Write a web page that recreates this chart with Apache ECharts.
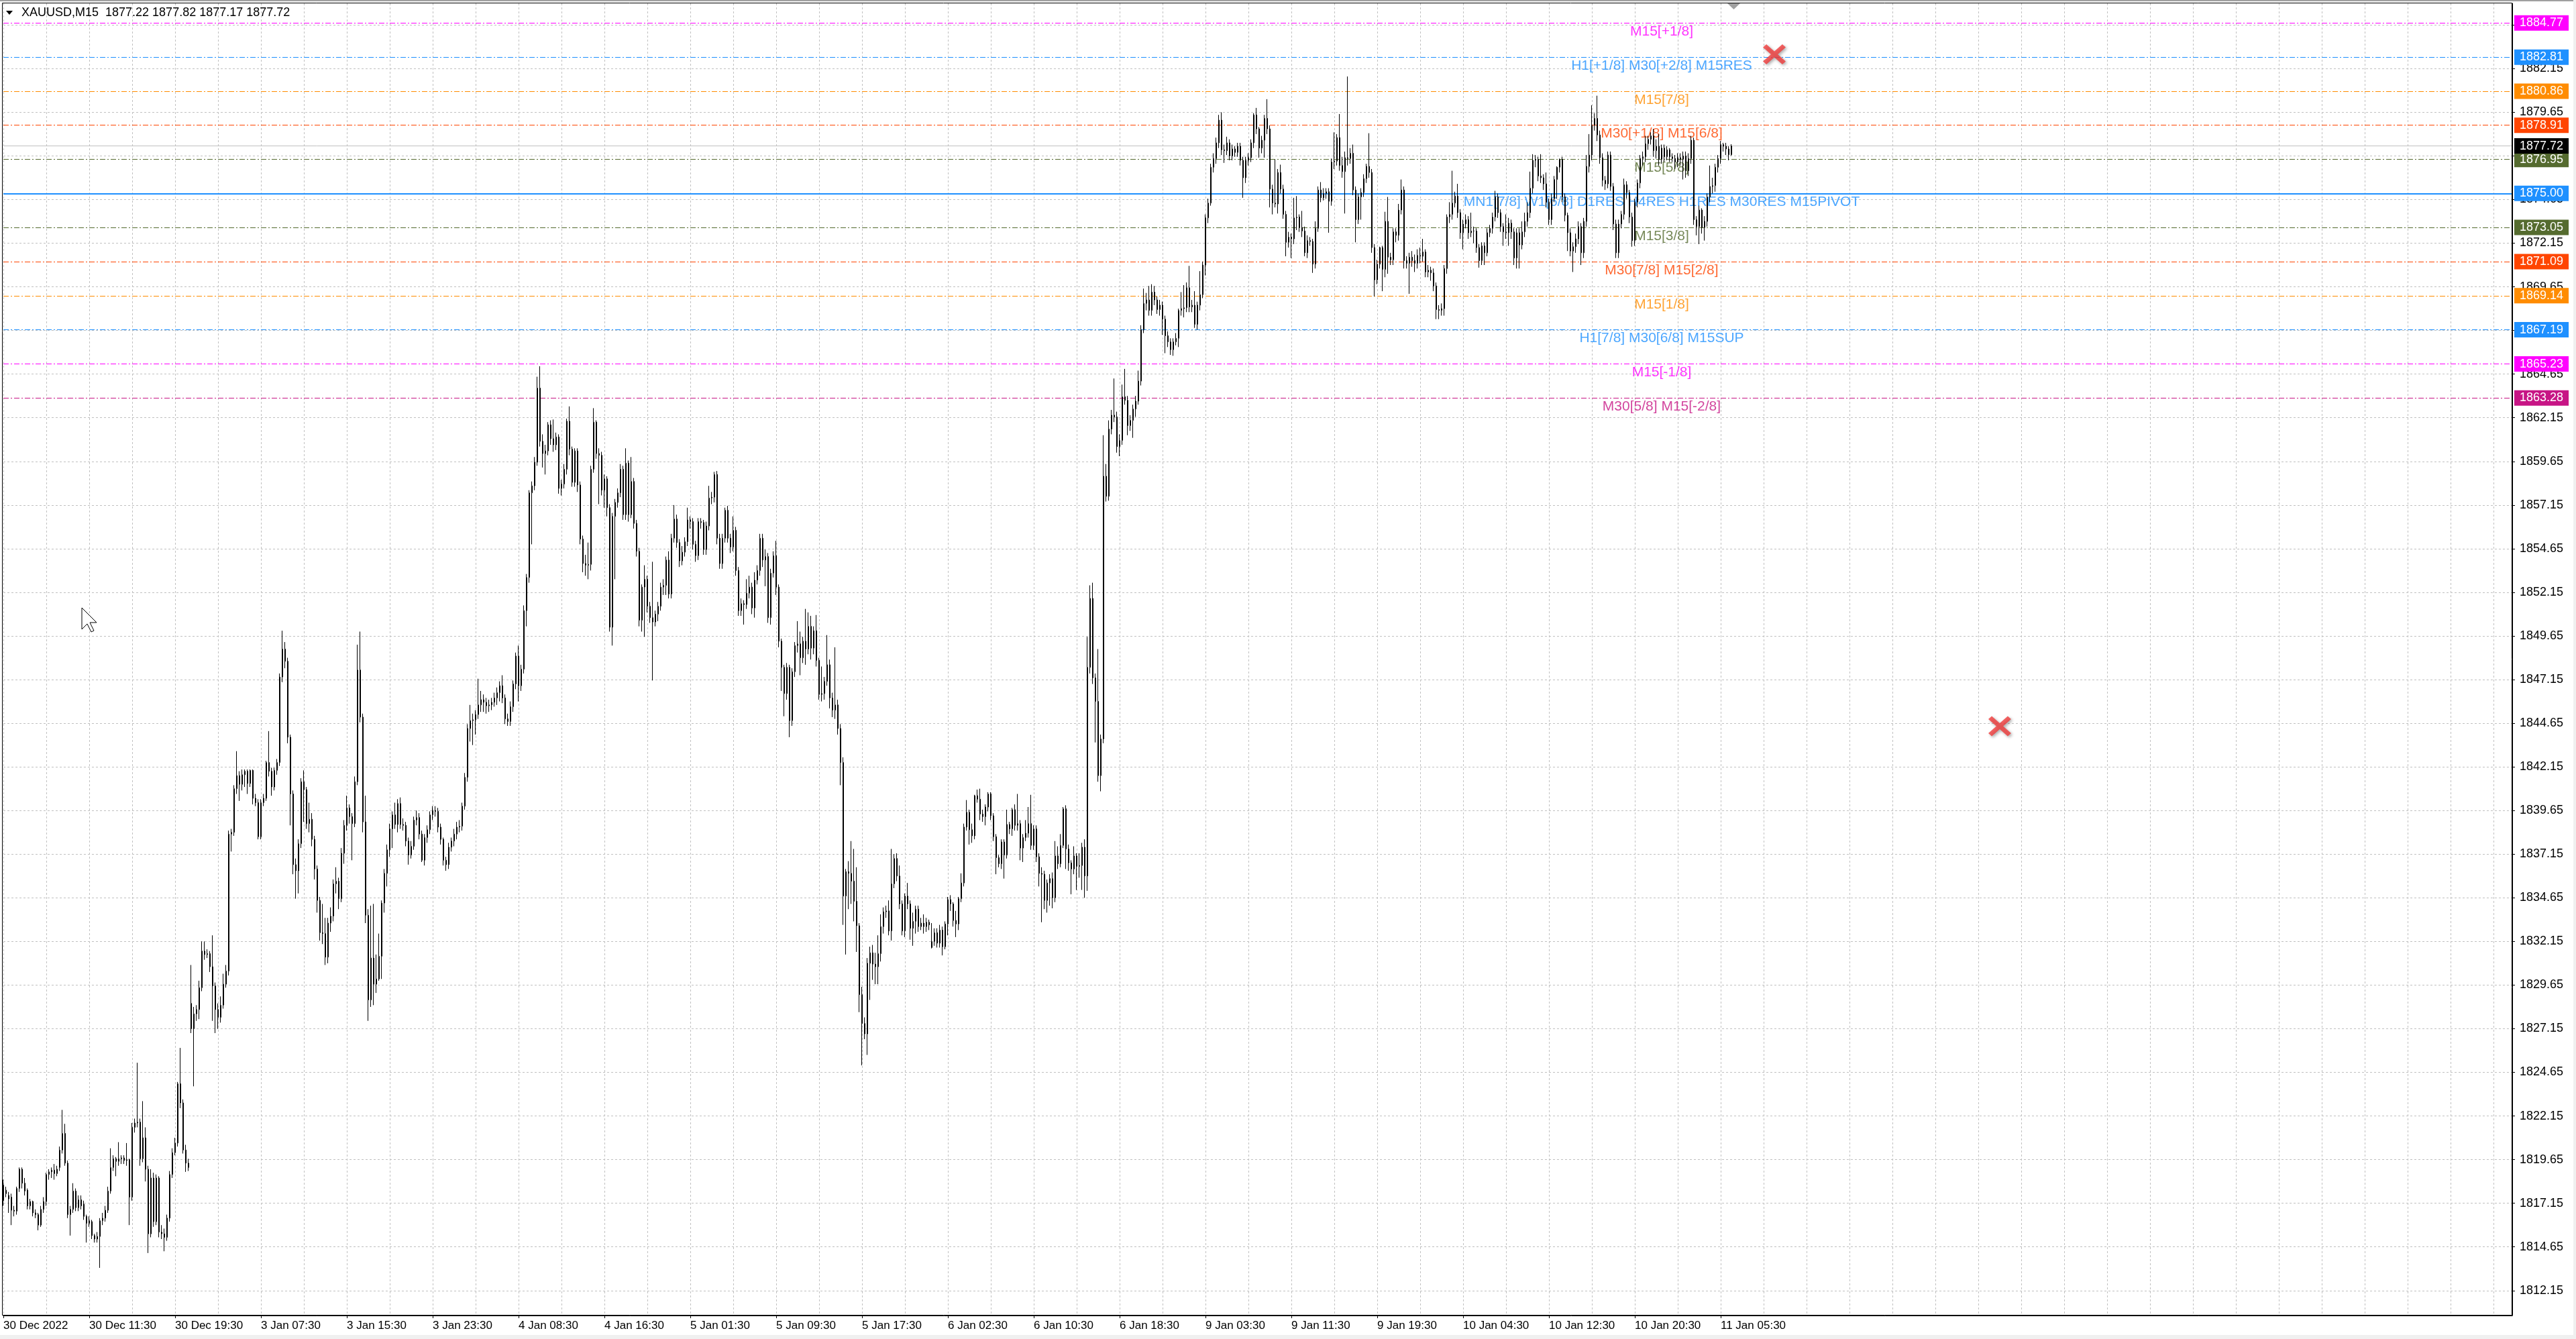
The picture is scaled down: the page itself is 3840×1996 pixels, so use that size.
<!DOCTYPE html>
<html><head><meta charset="utf-8">
<script src="https://cdn.jsdelivr.net/npm/echarts@6/dist/echarts.min.js"></script>
<style>html,body{margin:0;padding:0;background:#fff}#c{width:3840px;height:1996px}</style>
</head><body><div id="c"></div>
<script>
// ---------------- DATA ----------------
const symbolTitle = 'XAUUSD,M15  1877.22 1877.82 1877.17 1877.72';
const xTickLabels = ['30 Dec 2022','30 Dec 11:30','30 Dec 19:30','3 Jan 07:30','3 Jan 15:30','3 Jan 23:30','4 Jan 08:30','4 Jan 16:30','5 Jan 01:30','5 Jan 09:30','5 Jan 17:30','6 Jan 02:30','6 Jan 10:30','6 Jan 18:30','9 Jan 03:30','9 Jan 11:30','9 Jan 19:30','10 Jan 04:30','10 Jan 12:30','10 Jan 20:30','11 Jan 05:30'];
const yTickValues = [1812.15,1814.65,1817.15,1819.65,1822.15,1824.65,1827.15,1829.65,1832.15,1834.65,1837.15,1839.65,1842.15,1844.65,1847.15,1849.65,1852.15,1854.65,1857.15,1859.65,1862.15,1864.65,1867.15,1869.65,1872.15,1874.65,1877.15,1879.65,1882.15,1884.65];
const levelPrices = [1884.77,1882.81,1880.86,1878.91,1876.95,1875.00,1873.05,1871.09,1869.14,1867.19,1865.23,1863.28];
const levelNames = ['M15[+1/8]','H1[+1/8] M30[+2/8] M15RES','M15[7/8]','M30[+1/8] M15[6/8]','M15[5/8]','MN1[7/8] W1[6/8] D1RES H4RES H1RES M30RES M15PIVOT','M15[3/8]','M30[7/8] M15[2/8]','M15[1/8]','H1[7/8] M30[6/8] M15SUP','M15[-1/8]','M30[5/8] M15[-2/8]'];
const bidPrice = 1877.72;
const crossMarks = [[660, 1882.97], [744, 1844.48]];
// candles: [open, close, low, high]
const candles = [
[1817.3,1818.2,1817.0,1818.5],[1817.7,1817.9,1817.5,1818.1],[1817.6,1817.4,1816.6,1817.8],[1817.5,1816.75,1815.9,1817.7],[1816.75,1816.7,1816.4,1817.0],
[1816.7,1818.0,1816.5,1818.1],[1818.0,1819.1,1817.8,1819.2],[1819.1,1818.3,1818.0,1819.2],[1818.3,1817.85,1817.6,1818.6],[1817.9,1817.0,1816.8,1818.0],
[1817.0,1817.25,1816.8,1817.4],[1817.25,1816.6,1816.4,1817.3],[1816.6,1816.5,1816.3,1816.8],[1816.5,1815.9,1815.6,1816.6],[1815.9,1816.8,1815.8,1817.0],
[1816.8,1817.25,1816.6,1817.5],[1817.25,1818.8,1817.0,1818.9],[1818.8,1818.95,1818.5,1819.1],[1818.95,1819.05,1818.6,1819.2],[1819.05,1818.85,1818.5,1819.4],
[1818.85,1819.1,1818.7,1819.3],[1819.2,1820.2,1819.0,1820.4],[1820.2,1821.15,1820.0,1822.5],[1821.15,1819.45,1819.3,1821.7],[1819.45,1816.5,1816.3,1819.6],
[1816.5,1816.8,1815.3,1817.0],[1816.8,1817.85,1816.6,1818.3],[1817.85,1816.9,1816.7,1818.0],[1816.9,1817.35,1816.7,1817.6],[1817.35,1817.0,1816.8,1817.6],
[1817.1,1816.4,1816.2,1817.3],[1816.4,1816.0,1814.9,1816.5],[1816.0,1816.15,1815.8,1816.4],[1816.1,1815.3,1815.1,1816.2],[1815.3,1815.1,1814.9,1815.4],
[1815.1,1815.25,1814.9,1815.5],[1815.25,1816.15,1813.45,1816.3],[1816.15,1816.3,1815.9,1816.6],[1816.3,1816.75,1816.1,1817.0],[1816.75,1817.85,1816.6,1818.1],
[1817.85,1819.2,1817.7,1820.3],[1819.2,1819.7,1819.0,1819.9],[1819.7,1819.55,1818.7,1819.8],[1819.55,1819.7,1819.3,1820.65],[1819.7,1819.75,1819.4,1819.9],
[1819.75,1819.6,1819.4,1819.9],[1819.6,1819.65,1819.3,1820.6],[1819.65,1817.5,1815.9,1819.7],[1817.5,1821.5,1817.3,1821.75],[1821.5,1821.75,1821.2,1822.0],
[1821.75,1821.8,1821.5,1825.2],[1821.8,1819.7,1819.3,1822.0],[1819.7,1820.9,1819.5,1823.0],[1820.9,1819.1,1818.4,1821.5],[1819.1,1815.4,1814.3,1819.3],
[1815.4,1818.6,1815.2,1819.1],[1818.6,1816.1,1815.8,1818.9],[1816.1,1818.6,1815.9,1818.8],[1818.6,1815.5,1815.2,1818.7],[1815.5,1815.4,1815.1,1815.9],
[1815.4,1815.2,1814.4,1815.7],[1815.2,1816.3,1815.0,1816.5],[1816.3,1818.8,1816.1,1819.0],[1818.8,1820.05,1818.6,1820.3],[1820.05,1820.6,1819.9,1820.9],
[1820.6,1824.0,1820.4,1824.1],[1824.0,1822.9,1822.6,1826.05],[1822.9,1820.2,1820.0,1823.1],[1820.2,1819.45,1818.95,1820.5],[1819.45,1819.2,1819.0,1819.7],
[1828.6,1827.15,1826.9,1830.8],[1827.15,1828.0,1823.85,1828.4],[1828.0,1828.25,1827.6,1828.5],[1828.25,1829.5,1827.7,1829.9],[1829.5,1831.6,1829.3,1832.15],
[1831.6,1831.4,1831.1,1832.15],[1831.4,1831.45,1831.2,1831.7],[1831.45,1830.7,1830.4,1831.6],[1830.7,1829.6,1827.6,1832.5],[1829.6,1828.25,1826.9,1829.8],
[1828.25,1827.8,1827.15,1828.6],[1827.8,1828.5,1827.5,1829.0],[1828.5,1829.7,1828.3,1830.3],[1829.7,1830.45,1829.5,1830.8],[1830.45,1838.3,1830.2,1838.5],
[1838.3,1838.4,1837.3,1838.6],[1838.4,1840.9,1838.2,1841.1],[1840.9,1841.65,1840.6,1843.05],[1841.65,1841.15,1840.2,1841.9],[1841.15,1841.7,1840.8,1842.0],
[1841.7,1841.9,1841.0,1842.0],[1841.9,1841.2,1840.6,1842.0],[1841.2,1841.95,1841.0,1842.0],[1841.95,1840.35,1840.0,1842.0],[1840.35,1840.1,1839.9,1840.6],
[1840.1,1838.15,1838.0,1840.3],[1838.15,1840.1,1838.0,1840.3],[1840.1,1840.35,1839.9,1840.6],[1840.35,1842.4,1840.2,1842.5],[1842.4,1841.9,1841.6,1844.2],
[1841.9,1841.0,1840.5,1842.1],[1841.0,1841.95,1840.8,1842.1],[1841.95,1842.4,1841.7,1842.6],[1842.4,1847.3,1842.2,1847.5],[1847.3,1848.9,1847.0,1849.95],
[1848.9,1848.2,1847.8,1849.3],[1848.2,1843.85,1843.5,1848.4],[1843.85,1840.6,1838.8,1844.0],[1840.6,1836.55,1836.0,1840.8],[1836.55,1836.2,1834.6,1836.9],
[1836.2,1837.75,1834.9,1838.0],[1837.75,1841.3,1837.5,1841.5],[1841.3,1840.85,1839.0,1841.95],[1840.85,1838.9,1838.6,1841.0],[1838.9,1839.15,1838.4,1840.1],
[1839.15,1838.0,1837.6,1839.5],[1838.0,1836.3,1835.7,1838.2],[1836.3,1834.5,1833.8,1836.5],[1834.5,1832.65,1832.2,1834.7],[1832.65,1832.6,1832.0,1834.3],
[1832.6,1831.25,1830.8,1833.5],[1831.25,1833.2,1830.9,1833.5],[1833.2,1833.6,1832.7,1834.1],[1833.6,1835.45,1833.3,1835.7],[1835.45,1835.6,1834.9,1836.4],
[1835.6,1834.6,1834.0,1835.8],[1834.6,1837.2,1834.4,1837.5],[1837.2,1838.8,1836.6,1839.1],[1838.8,1839.8,1838.5,1840.5],[1839.8,1839.3,1838.9,1840.0],
[1839.3,1838.9,1836.8,1839.5],[1838.9,1841.3,1838.7,1841.6],[1841.3,1847.7,1841.1,1849.15],[1847.7,1845.0,1844.7,1849.9],[1845.0,1839.0,1838.4,1845.2],
[1839.0,1833.65,1833.2,1840.5],[1833.65,1828.8,1827.6,1834.0],[1828.8,1831.2,1828.4,1834.2],[1831.2,1829.7,1828.5,1834.3],[1829.7,1830.0,1829.2,1831.4],
[1830.0,1831.3,1829.9,1832.6],[1831.3,1834.35,1830.0,1834.5],[1834.35,1836.05,1833.8,1836.3],[1836.05,1837.4,1835.3,1837.7],[1837.4,1838.6,1837.0,1838.9],
[1838.6,1839.4,1837.5,1839.6],[1839.4,1838.85,1838.6,1840.1],[1838.85,1840.05,1838.4,1840.3],[1840.05,1838.85,1838.6,1840.4],[1838.85,1838.8,1838.5,1839.2],
[1838.8,1837.9,1837.6,1839.0],[1837.9,1837.1,1836.55,1838.1],[1837.1,1837.6,1836.9,1837.9],[1837.6,1839.1,1837.4,1839.3],[1839.1,1839.25,1838.8,1839.65],
[1839.25,1838.3,1838.0,1839.5],[1838.3,1836.8,1836.7,1838.5],[1836.8,1838.1,1836.5,1838.3],[1838.1,1838.55,1837.8,1838.8],[1838.55,1839.4,1838.3,1839.6],
[1839.4,1839.65,1839.1,1839.9],[1839.65,1839.6,1839.3,1839.9],[1839.6,1838.7,1838.4,1839.8],[1838.7,1838.0,1837.7,1838.9],[1838.0,1836.8,1836.5,1838.1],
[1836.8,1836.55,1836.2,1837.0],[1836.55,1837.55,1836.3,1837.8],[1837.55,1837.9,1837.3,1838.1],[1837.9,1838.3,1837.6,1838.6],[1838.3,1838.7,1838.0,1839.0],
[1838.7,1838.75,1838.4,1839.1],[1838.75,1839.9,1838.5,1840.1],[1839.9,1841.55,1839.7,1841.8],[1841.55,1844.35,1841.3,1844.6],[1844.35,1844.8,1843.6,1845.7],
[1844.8,1844.85,1843.4,1845.2],[1844.85,1845.15,1844.0,1845.4],[1845.15,1845.7,1844.9,1847.2],[1845.7,1846.0,1845.3,1846.5],[1846.0,1845.85,1845.3,1846.3],
[1845.85,1845.65,1845.2,1846.1],[1845.65,1845.7,1845.3,1846.0],[1845.7,1845.85,1845.4,1846.1],[1845.85,1846.1,1845.6,1846.4],[1846.1,1846.4,1845.7,1846.7],
[1846.4,1846.8,1845.9,1847.05],[1846.8,1846.1,1845.8,1847.4],[1846.1,1844.9,1844.6,1846.3],[1844.9,1844.75,1844.5,1845.2],[1844.75,1845.6,1844.5,1845.9],
[1845.6,1846.9,1845.3,1847.1],[1846.9,1848.5,1846.6,1848.7],[1848.5,1846.8,1845.9,1849.1],[1846.8,1847.75,1846.5,1848.0],[1847.75,1851.1,1847.5,1851.4],
[1851.1,1853.0,1850.2,1853.2],[1853.0,1857.85,1852.7,1858.0],[1857.85,1858.25,1854.9,1858.5],[1858.25,1859.6,1858.0,1859.9],[1859.6,1863.85,1859.4,1864.5],
[1863.85,1860.8,1860.5,1865.1],[1860.8,1860.1,1859.3,1861.2],[1860.1,1860.25,1858.9,1860.6],[1860.25,1861.75,1860.0,1861.9],[1861.75,1860.95,1860.6,1862.0],
[1860.95,1860.6,1860.2,1862.05],[1860.6,1861.05,1860.3,1861.3],[1861.05,1858.1,1857.8,1861.2],[1858.1,1858.35,1857.7,1858.6],[1858.35,1859.2,1858.1,1859.5],
[1859.2,1861.95,1858.9,1862.1],[1861.95,1860.35,1860.0,1862.8],[1860.35,1858.45,1858.2,1860.5],[1858.45,1860.25,1858.2,1860.4],[1860.25,1858.3,1857.9,1860.4],
[1858.3,1855.2,1854.9,1858.5],[1855.2,1853.8,1853.3,1855.4],[1853.8,1853.7,1853.1,1854.3],[1853.7,1853.75,1852.9,1855.0],[1853.75,1859.2,1853.4,1859.4],
[1859.2,1861.9,1859.0,1862.7],[1861.9,1860.1,1859.8,1862.0],[1860.1,1860.0,1857.2,1860.4],[1860.0,1858.0,1857.7,1860.2],[1858.0,1858.65,1857.0,1858.9],
[1858.65,1857.0,1856.5,1858.8],[1857.0,1850.15,1849.9,1857.2],[1850.15,1856.5,1849.1,1856.7],[1856.5,1857.3,1852.9,1857.5],[1857.3,1857.85,1857.0,1858.1],
[1857.85,1859.2,1857.6,1859.5],[1859.2,1856.6,1856.3,1859.4],[1856.6,1859.55,1856.3,1860.4],[1859.55,1856.6,1856.2,1859.7],[1856.6,1858.5,1856.4,1859.9],
[1858.5,1856.1,1855.8,1858.7],[1856.1,1854.5,1854.2,1856.3],[1854.5,1850.55,1850.2,1854.7],[1850.55,1852.45,1849.9,1852.6],[1852.45,1852.9,1849.6,1853.7],
[1852.9,1851.35,1851.0,1853.1],[1851.35,1850.7,1850.4,1851.6],[1850.7,1850.45,1847.1,1853.9],[1850.45,1850.9,1850.2,1851.1],[1850.9,1851.35,1850.5,1851.6],
[1851.35,1852.45,1851.1,1852.7],[1852.45,1852.55,1852.0,1852.9],[1852.55,1854.0,1852.0,1854.2],[1854.0,1852.05,1851.8,1854.5],[1852.05,1855.25,1851.8,1855.5],
[1855.25,1856.35,1855.0,1857.15],[1856.35,1855.0,1854.7,1856.6],[1855.0,1853.95,1853.6,1855.2],[1853.95,1854.45,1853.7,1854.8],[1854.45,1855.05,1854.2,1855.3],
[1855.05,1856.3,1854.8,1857.0],[1856.3,1856.2,1855.8,1856.5],[1856.2,1854.9,1854.6,1856.4],[1854.9,1854.25,1853.9,1855.1],[1854.25,1856.2,1854.0,1856.4],
[1856.2,1856.15,1855.8,1856.4],[1856.15,1854.6,1854.3,1856.3],[1854.6,1855.95,1854.3,1856.2],[1855.95,1857.55,1855.7,1858.25],[1857.55,1857.6,1857.2,1857.9],
[1857.6,1858.9,1857.3,1859.05],[1858.9,1855.25,1854.9,1859.1],[1855.25,1853.8,1853.5,1855.5],[1853.8,1855.25,1853.5,1855.5],[1855.25,1856.85,1855.0,1857.0],
[1856.85,1855.25,1855.0,1857.1],[1855.25,1854.75,1854.4,1855.5],[1854.75,1855.7,1854.5,1856.5],[1855.7,1853.4,1853.1,1855.9],[1853.4,1851.1,1850.8,1853.6],
[1851.1,1851.5,1850.8,1851.8],[1851.5,1851.45,1850.3,1851.7],[1851.45,1852.1,1851.2,1852.9],[1852.1,1852.45,1851.8,1853.1],[1852.45,1851.25,1850.9,1852.7],
[1851.25,1852.85,1850.7,1853.3],[1852.85,1853.4,1852.6,1853.7],[1853.4,1855.25,1853.1,1855.5],[1855.25,1854.0,1853.6,1855.5],[1854.0,1854.2,1852.5,1854.6],
[1854.2,1850.7,1850.4,1854.4],[1850.7,1853.25,1850.3,1853.5],[1853.25,1854.25,1853.0,1854.5],[1854.25,1852.45,1852.0,1855.1],[1852.45,1849.35,1849.0,1852.6],
[1849.35,1847.85,1846.5,1849.5],[1847.85,1846.35,1845.05,1848.0],[1846.35,1847.85,1846.0,1848.1],[1847.85,1844.8,1843.85,1848.0],[1844.8,1847.6,1844.5,1847.8],
[1847.6,1849.1,1847.3,1849.3],[1849.1,1849.2,1848.7,1850.5],[1849.2,1848.4,1847.4,1849.9],[1848.4,1849.35,1848.1,1849.6],[1849.35,1848.9,1848.0,1851.2],
[1848.9,1850.2,1848.6,1851.0],[1850.2,1848.95,1848.3,1850.8],[1848.95,1849.95,1848.6,1850.2],[1849.95,1848.25,1847.9,1850.85],[1848.25,1846.3,1846.0,1848.4],
[1846.3,1846.35,1845.9,1847.9],[1846.35,1847.05,1846.0,1847.3],[1847.05,1848.0,1846.8,1849.7],[1848.0,1846.1,1845.5,1848.3],[1846.1,1845.4,1845.0,1846.4],
[1845.4,1845.7,1844.9,1849.0],[1845.7,1844.35,1844.0,1846.0],[1844.35,1842.4,1841.1,1844.6],[1842.4,1834.75,1833.1,1842.7],[1834.75,1836.15,1831.4,1836.3],
[1836.15,1836.05,1834.0,1836.75],[1836.05,1835.6,1834.3,1837.9],[1835.6,1834.45,1833.3,1837.45],[1834.45,1833.05,1831.55,1836.4],[1833.05,1829.1,1828.1,1833.2],
[1829.1,1827.45,1825.05,1829.55],[1827.45,1826.85,1826.55,1827.8],[1826.85,1830.9,1825.65,1831.2],[1830.9,1831.5,1828.8,1831.85],[1831.5,1830.85,1829.95,1831.95],
[1830.85,1830.7,1829.7,1831.5],[1830.7,1831.45,1829.7,1832.5],[1831.45,1833.0,1831.0,1833.7],[1833.0,1833.85,1832.6,1834.1],[1833.85,1833.9,1833.5,1834.2],
[1833.9,1832.75,1832.5,1834.5],[1832.75,1835.45,1832.2,1837.45],[1835.45,1836.9,1835.2,1837.15],[1836.9,1835.9,1835.6,1837.2],[1835.9,1834.3,1834.0,1836.5],
[1834.3,1832.75,1832.5,1834.5],[1832.75,1834.75,1832.4,1834.9],[1834.75,1834.3,1834.0,1835.5],[1834.3,1832.9,1832.25,1834.5],[1832.9,1833.3,1831.9,1833.8],
[1833.3,1834.0,1832.6,1834.2],[1834.0,1833.0,1832.7,1834.2],[1833.0,1833.2,1832.8,1833.5],[1833.2,1833.0,1832.6,1833.7],[1833.0,1833.25,1832.7,1833.5],
[1833.25,1833.1,1832.8,1833.4],[1831.8,1832.15,1831.75,1833.2],[1832.15,1832.65,1831.9,1832.9],[1832.65,1832.05,1831.8,1832.9],[1832.05,1832.8,1831.8,1833.1],
[1832.8,1831.85,1831.35,1833.0],[1831.85,1833.15,1831.7,1833.3],[1833.15,1834.55,1832.5,1834.7],[1834.55,1834.3,1833.9,1834.8],[1834.3,1833.35,1833.0,1834.4],
[1833.35,1833.15,1832.4,1833.9],[1833.15,1834.6,1832.8,1834.7],[1834.6,1835.5,1834.4,1836.05],[1835.5,1838.7,1835.3,1838.9],[1838.7,1839.55,1838.5,1840.25],
[1839.55,1838.55,1837.7,1839.7],[1838.55,1838.2,1837.8,1838.9],[1838.2,1840.5,1838.0,1840.55],[1840.5,1840.3,1840.1,1840.85],[1840.3,1839.45,1839.1,1840.9],
[1839.45,1839.3,1839.0,1839.7],[1839.3,1839.85,1838.8,1840.0],[1839.85,1840.6,1839.6,1840.7],[1840.6,1839.35,1839.1,1840.7],[1839.35,1838.15,1837.9,1839.5],
[1838.15,1836.95,1836.0,1838.3],[1836.95,1836.6,1836.4,1837.1],[1836.6,1837.85,1836.3,1838.0],[1837.85,1837.1,1835.75,1838.0],[1837.1,1838.85,1836.9,1839.7],
[1838.85,1838.6,1838.3,1839.0],[1838.6,1839.7,1838.2,1839.8],[1839.7,1838.8,1838.5,1840.0],[1838.8,1838.9,1838.5,1840.6],[1838.9,1837.5,1836.8,1839.1],
[1837.5,1838.1,1836.7,1838.3],[1838.1,1838.35,1837.9,1839.1],[1838.35,1838.9,1838.1,1839.85],[1838.9,1837.65,1837.4,1840.55],[1837.65,1838.6,1837.4,1838.8],
[1838.6,1837.0,1836.7,1838.8],[1837.0,1836.05,1835.3,1837.2],[1836.05,1836.0,1833.25,1836.4],[1836.0,1834.5,1834.0,1836.2],[1834.5,1835.5,1833.8,1835.7],
[1835.5,1835.75,1834.2,1836.0],[1835.75,1834.65,1834.05,1836.1],[1834.65,1837.05,1834.4,1837.9],[1837.05,1836.6,1836.3,1837.6],[1836.6,1837.65,1836.4,1838.3],
[1837.65,1839.75,1837.5,1839.85],[1839.75,1837.45,1836.3,1839.95],[1837.45,1836.65,1836.2,1837.7],[1836.65,1836.3,1834.85,1836.8],[1836.3,1837.05,1836.0,1837.6],
[1837.05,1836.45,1835.1,1837.2],[1836.45,1836.5,1835.8,1837.2],[1836.5,1837.55,1835.1,1837.8],[1837.55,1835.9,1834.65,1838.0],[1835.9,1847.85,1835.05,1849.6],
[1847.85,1851.8,1847.5,1852.55],[1851.8,1847.25,1846.9,1852.7],[1847.25,1845.9,1843.55,1847.5],[1845.9,1841.65,1841.3,1848.9],[1841.65,1843.75,1840.75,1844.0],
[1843.75,1858.8,1843.5,1861.15],[1858.8,1857.65,1857.35,1859.5],[1857.65,1861.5,1857.4,1862.0],[1861.5,1862.3,1861.2,1862.6],[1862.3,1862.2,1861.9,1864.4],
[1862.2,1860.5,1860.15,1862.5],[1860.5,1860.85,1859.95,1861.2],[1860.85,1863.35,1860.6,1864.05],[1863.35,1863.15,1862.9,1864.95],[1863.15,1861.7,1861.15,1863.4],
[1861.7,1862.0,1861.4,1862.3],[1862.0,1862.65,1861.0,1862.9],[1862.65,1863.1,1862.2,1863.4],[1863.1,1864.25,1862.9,1864.85],[1864.25,1867.2,1864.0,1867.45],
[1867.2,1868.7,1867.0,1869.55],[1868.7,1868.9,1868.3,1869.3],[1868.9,1868.3,1868.0,1869.7],[1868.3,1869.35,1868.0,1869.8],[1869.35,1868.9,1868.6,1869.7],
[1868.9,1868.35,1868.1,1869.1],[1868.35,1868.6,1868.0,1868.9],[1868.6,1867.8,1866.9,1868.8],[1867.8,1866.85,1865.85,1868.0],[1866.85,1866.5,1866.2,1867.1],
[1866.5,1866.05,1865.75,1866.7],[1866.05,1866.5,1865.7,1866.7],[1866.5,1866.7,1866.3,1867.0],[1866.7,1868.3,1866.2,1868.4],[1868.3,1868.4,1868.0,1869.35],
[1868.4,1868.45,1867.9,1869.75],[1868.45,1869.6,1868.2,1869.9],[1869.6,1868.5,1868.2,1870.85],[1868.5,1868.6,1868.2,1868.9],[1868.6,1867.5,1867.3,1869.4],
[1867.5,1868.6,1867.2,1868.8],[1868.6,1869.2,1868.3,1870.55],[1869.2,1870.9,1869.0,1871.1],[1870.9,1873.6,1870.3,1873.8],[1873.6,1874.45,1873.3,1874.7],
[1874.45,1876.5,1874.3,1876.7],[1876.5,1877.0,1876.2,1877.3],[1877.0,1877.9,1876.7,1878.2],[1877.9,1879.2,1877.6,1879.5],[1879.2,1877.5,1877.2,1879.65],
[1877.5,1877.45,1876.75,1877.8],[1877.45,1877.9,1877.2,1878.25],[1877.9,1877.15,1876.9,1878.1],[1877.15,1877.55,1876.9,1877.8],[1877.55,1877.35,1877.1,1877.7],
[1877.35,1877.7,1877.1,1877.9],[1877.7,1876.9,1876.6,1877.9],[1876.9,1875.9,1874.75,1877.1],[1875.9,1876.9,1875.6,1877.1],[1876.9,1877.05,1876.6,1877.3],
[1877.05,1877.9,1876.8,1878.1],[1877.9,1879.5,1877.6,1879.6],[1879.5,1878.7,1878.4,1879.9],[1878.7,1877.6,1877.05,1878.8],[1877.6,1878.05,1877.3,1878.3],
[1878.05,1879.3,1877.05,1879.5],[1879.3,1878.7,1878.4,1880.4],[1878.7,1875.25,1874.2,1878.9],[1875.25,1874.45,1873.8,1875.5],[1874.45,1874.4,1874.2,1876.95],
[1874.4,1876.2,1873.85,1876.4],[1876.2,1875.25,1875.0,1876.65],[1875.25,1873.8,1873.55,1875.5],[1873.8,1872.2,1871.4,1874.0],[1872.2,1872.5,1871.9,1872.8],
[1872.5,1872.4,1871.3,1872.7],[1872.4,1873.6,1872.1,1874.75],[1873.6,1873.65,1872.9,1874.85],[1873.65,1873.05,1872.8,1873.8],[1873.05,1872.85,1872.5,1874.0],
[1872.85,1871.6,1871.4,1873.1],[1871.6,1872.3,1871.3,1872.6],[1872.3,1872.25,1872.0,1872.5],[1872.25,1870.95,1870.45,1872.4],[1870.95,1873.0,1870.7,1873.4],
[1873.0,1875.2,1872.8,1875.4],[1875.2,1874.75,1874.5,1875.65],[1874.75,1875.0,1874.6,1875.3],[1875.0,1875.1,1874.7,1875.3],[1875.1,1874.55,1872.75,1875.3],
[1874.55,1876.8,1874.3,1877.0],[1876.8,1876.85,1876.4,1878.5],[1876.85,1878.2,1876.6,1878.4],[1878.2,1876.6,1876.3,1879.55],[1876.6,1876.25,1875.9,1877.1],
[1876.25,1877.05,1873.85,1877.4],[1877.05,1877.0,1876.6,1881.7],[1877.0,1877.3,1876.7,1877.6],[1877.3,1875.2,1874.9,1877.8],[1875.2,1873.5,1872.2,1875.4],
[1873.5,1874.8,1873.25,1875.0],[1874.8,1875.05,1873.5,1875.3],[1875.05,1875.85,1874.8,1876.1],[1875.85,1876.55,1875.6,1876.7],[1876.55,1876.2,1875.9,1878.45],
[1876.2,1871.9,1871.6,1876.4],[1871.9,1870.05,1869.1,1872.1],[1870.05,1870.95,1869.8,1871.2],[1870.95,1871.9,1870.7,1871.95],[1871.9,1870.65,1869.4,1872.0],
[1870.65,1873.4,1870.2,1873.95],[1873.4,1871.35,1870.4,1874.8],[1871.35,1871.2,1870.9,1871.6],[1871.2,1872.8,1870.9,1873.0],[1872.8,1872.6,1872.2,1873.0],
[1872.6,1874.05,1872.3,1874.4],[1874.05,1875.2,1873.8,1875.8],[1875.2,1871.15,1870.7,1875.4],[1871.15,1871.0,1870.7,1871.4],[1871.0,1871.35,1869.25,1871.6],
[1871.35,1871.15,1870.8,1871.7],[1871.15,1871.0,1870.5,1871.5],[1871.0,1871.45,1870.7,1871.8],[1871.45,1871.4,1871.0,1871.9],[1871.4,1871.65,1871.1,1872.4],
[1871.65,1870.5,1870.2,1871.8],[1870.5,1870.6,1870.2,1870.9],[1870.6,1870.45,1870.0,1870.8],[1870.45,1869.7,1869.4,1870.7],[1869.7,1868.35,1867.8,1869.9],
[1868.35,1868.3,1867.8,1868.6],[1868.3,1868.4,1868.0,1868.7],[1868.4,1870.7,1868.0,1870.9],[1870.7,1873.65,1870.4,1873.8],[1873.65,1873.8,1873.3,1874.5],
[1873.8,1874.45,1873.5,1876.3],[1874.45,1874.85,1874.2,1875.1],[1874.85,1873.9,1873.6,1875.55],[1873.9,1872.75,1872.4,1874.1],[1872.75,1873.25,1871.8,1873.5],
[1873.25,1873.5,1873.0,1873.8],[1873.5,1872.75,1872.4,1873.7],[1872.75,1872.85,1872.5,1873.9],[1872.85,1872.85,1872.15,1873.1],[1872.85,1871.9,1871.6,1873.0],
[1871.9,1871.15,1870.75,1872.1],[1871.15,1872.0,1870.9,1872.2],[1872.0,1871.6,1870.9,1872.2],[1871.6,1872.75,1871.4,1873.0],[1872.75,1873.0,1872.5,1873.2],
[1873.0,1873.65,1872.7,1873.9],[1873.65,1874.8,1873.4,1875.15],[1874.8,1873.9,1873.6,1875.0],[1873.9,1873.1,1872.8,1874.1],[1873.1,1872.8,1872.0,1873.3],
[1872.8,1872.75,1872.4,1873.8],[1872.75,1873.3,1872.0,1873.6],[1873.3,1872.8,1872.4,1873.5],[1872.8,1871.3,1870.9,1873.0],[1871.3,1872.75,1870.7,1873.0],
[1872.75,1872.05,1870.7,1873.0],[1872.05,1872.8,1871.8,1873.4],[1872.8,1873.4,1872.5,1873.9],[1873.4,1873.9,1873.1,1874.5],[1873.9,1875.3,1873.6,1876.25],
[1875.3,1876.9,1875.0,1877.25],[1876.9,1876.95,1876.5,1877.2],[1876.95,1876.0,1875.7,1877.1],[1876.0,1875.9,1875.6,1877.25],[1875.9,1875.55,1875.2,1876.1],
[1875.55,1874.5,1874.2,1876.2],[1874.5,1873.5,1873.2,1874.7],[1873.5,1874.7,1873.2,1875.0],[1874.7,1875.8,1874.5,1876.0],[1875.8,1876.5,1874.7,1876.55],
[1876.5,1876.95,1876.2,1877.0],[1876.95,1874.8,1874.5,1877.1],[1874.8,1873.75,1873.4,1875.0],[1873.75,1872.75,1871.7,1873.9],[1872.75,1871.7,1871.4,1873.0],
[1871.7,1871.95,1870.5,1872.2],[1871.95,1872.4,1871.6,1872.7],[1872.4,1873.1,1872.1,1873.4],[1873.1,1871.6,1870.9,1873.3],[1871.6,1873.4,1871.3,1873.6],
[1873.4,1876.55,1873.1,1877.2],[1876.55,1877.2,1876.2,1878.4],[1877.2,1878.9,1876.9,1880.05],[1878.9,1879.3,1878.6,1879.6],[1879.3,1878.35,1878.0,1880.6],
[1878.35,1877.05,1876.7,1878.6],[1877.05,1875.75,1875.4,1877.3],[1875.75,1875.55,1875.2,1876.0],[1875.55,1877.2,1875.3,1877.4],[1877.2,1875.4,1875.15,1877.4],
[1875.4,1873.25,1872.9,1875.6],[1873.25,1871.6,1871.3,1873.5],[1871.6,1873.25,1871.3,1873.5],[1873.25,1873.8,1873.0,1874.0],[1873.8,1875.5,1873.5,1875.85],
[1875.5,1875.05,1874.7,1875.7],[1875.05,1873.65,1873.3,1875.2],[1873.65,1872.3,1871.95,1873.9],[1872.3,1874.5,1872.0,1874.7],[1874.5,1875.6,1874.2,1875.8],
[1875.6,1877.0,1875.3,1877.2],[1877.0,1877.1,1876.6,1877.4],[1877.1,1877.85,1876.8,1878.3],[1877.85,1878.1,1877.5,1878.3],[1878.1,1878.3,1877.8,1878.5],
[1878.3,1877.45,1877.1,1878.7],[1877.45,1877.7,1877.0,1878.1],[1877.7,1876.95,1876.6,1878.4],[1876.95,1877.6,1876.7,1877.8],[1877.6,1877.1,1876.8,1877.8],
[1877.1,1877.5,1876.9,1877.7],[1877.5,1877.1,1876.8,1877.6],[1877.1,1877.0,1876.8,1877.3],[1877.0,1876.8,1876.4,1877.2],[1876.8,1877.05,1876.5,1877.3],
[1877.05,1876.95,1876.6,1877.3],[1876.95,1877.15,1875.8,1877.4],[1877.15,1876.3,1875.9,1877.4],[1876.3,1877.0,1876.0,1877.3],[1877.0,1878.05,1876.7,1878.3],
[1878.05,1873.5,1873.2,1878.2],[1873.5,1873.1,1872.6,1873.7],[1873.1,1874.05,1872.1,1874.3],[1874.05,1873.05,1872.7,1874.15],[1873.05,1873.4,1872.3,1873.7],
[1873.4,1874.8,1873.1,1875.0],[1874.8,1875.4,1874.5,1876.6],[1875.4,1875.45,1875.0,1875.9],[1875.45,1876.5,1875.1,1876.7],[1876.5,1877.0,1876.2,1877.2],
[1877.0,1877.8,1876.7,1878.0],[1877.8,1877.7,1877.4,1877.9],[1877.7,1877.55,1877.2,1877.9],[1877.55,1877.22,1876.9,1877.7],[1877.22,1877.72,1877.17,1877.82]
];

// ---------------- LAYOUT / STYLE ----------------
const BAR_SLOTS = 936;
const LABEL_EVERY = 32;
const GRID_EVERY = 16;
const LEVEL_LABEL_BAR = 618;
const Y_MIN = 1810.72, Y_MAX = 1885.89;
const FONT = "'Liberation Sans', Arial, sans-serif";
const levelColors = ['#ff00ff','#1e90ff','#ff8c00','#ff4500','#556b2f','#1e90ff','#556b2f','#ff4500','#ff8c00','#1e90ff','#ff00ff','#c71585'];
const levelSolid = [false,false,false,false,false,true,false,false,false,false,false,false];
const DASHDOT = [8,3,2,3];

const categories = Array.from({length: BAR_SLOTS}, (_, i) => String(i));
const lastBar = candles.length - 1;

const tagLabel = (p, bg) => ({
  show: true, position: 'end', distance: 3, formatter: p.toFixed(2),
  backgroundColor: bg, color: '#fff', fontSize: 18, fontFamily: FONT,
  padding: [3, 8, 2, 8], lineHeight: 18
});

const levelLines = levelPrices.map((p, i) => ({
  yAxis: p,
  lineStyle: { color: levelColors[i], width: levelSolid[i] ? 2 : 1.2, type: levelSolid[i] ? 'solid' : DASHDOT, opacity: 1 },
  label: tagLabel(p, levelColors[i])
}));
levelLines.push({
  yAxis: bidPrice,
  lineStyle: { color: '#c0c0c0', width: 1, type: 'solid', opacity: 1 },
  label: tagLabel(bidPrice, '#000')
});

const levelLabelData = levelPrices.map((p, i) => ({
  value: [LEVEL_LABEL_BAR, p],
  label: { color: levelColors[i], formatter: levelNames[i] }
}));

const chart = echarts.init(document.getElementById('c'), null, { renderer: 'canvas' });
chart.setOption({
  animation: false,
  backgroundColor: '#fff',
  grid: { left: 5, right: 95, top: 5, bottom: 35, outerBoundsMode: 'none' },
  xAxis: {
    type: 'category', data: categories, boundaryGap: false,
    axisLine: { show: true, lineStyle: { color: '#000', width: 1 } },
    axisTick: { show: true, length: 4, interval: (i) => i % LABEL_EVERY === 0 && i <= lastBar, lineStyle: { color: '#000' } },
    axisLabel: {
      show: true, interval: (i) => i % LABEL_EVERY === 0 && i <= lastBar,
      formatter: (v) => xTickLabels[Number(v) / LABEL_EVERY] || '',
      align: 'left', margin: 7, fontSize: 17, fontFamily: FONT, color: '#000'
    },
    splitLine: { show: true, interval: (i) => i % GRID_EVERY === 0, lineStyle: { color: '#c0c0c0', width: 1, type: [3, 3] } }
  },
  yAxis: {
    type: 'value', position: 'right', min: Y_MIN, max: Y_MAX, scale: true,
    axisLine: { show: true, lineStyle: { color: '#000', width: 1 } },
    axisTick: { show: true, customValues: yTickValues, length: 4, lineStyle: { color: '#000' } },
    axisLabel: { show: true, customValues: yTickValues, formatter: (v) => Number(v).toFixed(2), margin: 11, fontSize: 18, fontFamily: FONT, color: '#000' },
    splitLine: { show: true, lineStyle: { color: '#c0c0c0', width: 1, type: [3, 3] } }
  },
  series: [
    {
      name: 'levels', type: 'scatter', z: 1, silent: true,
      symbolSize: 1, itemStyle: { color: 'rgba(0,0,0,0)' },
      data: levelLabelData,
      label: { show: true, position: 'bottom', distance: 2, fontSize: 21, fontFamily: FONT },
      markLine: { silent: true, symbol: ['none', 'none'], z: 1, animation: false, precision: 2, data: levelLines }
    },
    {
      name: 'XAUUSD', type: 'candlestick', z: 3, large: false, clip: false,
      barWidth: 2, data: candles,
      itemStyle: { color: '#ffffff', color0: '#000000', borderColor: '#000000', borderColor0: '#000000', borderWidth: 1 }
    },
    {
      name: 'marks', type: 'scatter', z: 6, silent: true,
      symbol: 'path://M3,0 L10,7 L17,0 L20,3 L13,10 L20,17 L17,20 L10,13 L3,20 L0,17 L7,10 L0,3 Z',
      symbolSize: [34, 30],
      itemStyle: { color: '#f03c3c', shadowBlur: 4, shadowColor: 'rgba(0,0,0,0.4)', shadowOffsetX: 2, shadowOffsetY: 2 },
      data: crossMarks
    }
  ],
  graphic: [
    { type: 'rect', silent: true, z: 100, shape: { x: 0, y: 0, width: 3840, height: 2 }, style: { fill: '#a0a0a0' } },
    { type: 'rect', silent: true, z: 100, shape: { x: 0, y: 1990, width: 3840, height: 6 }, style: { fill: '#f0f0f0' } },
    { type: 'rect', silent: true, z: 100, shape: { x: 3836, y: 0, width: 4, height: 1996 }, style: { fill: '#f0f0f0' } },
    { type: 'rect', silent: true, z: 100, shape: { x: 3.5, y: 4.5, width: 3741, height: 1956 }, style: { fill: 'none', stroke: '#000', lineWidth: 1 } },
    { type: 'polygon', silent: true, z: 100, shape: { points: [[9, 16], [19, 16], [14, 22]] }, style: { fill: '#000' } },
    { type: 'text', silent: true, z: 100, x: 32, y: 19, style: { text: symbolTitle, fontSize: 18, fontFamily: FONT, fill: '#000', verticalAlign: 'middle' } },
    { type: 'polygon', silent: true, z: 100, shape: { points: [[2575, 5], [2594, 5], [2584.5, 14]] }, style: { fill: '#a0a0a0' } },
    { type: 'polygon', silent: true, z: 100, shape: { points: [[122, 906], [122, 938], [130, 930], [136, 942], [140, 940], [134, 928], [144, 928]] }, style: { fill: '#fff', stroke: '#000', lineWidth: 1 } }
  ]
});
</script>
</body></html>
